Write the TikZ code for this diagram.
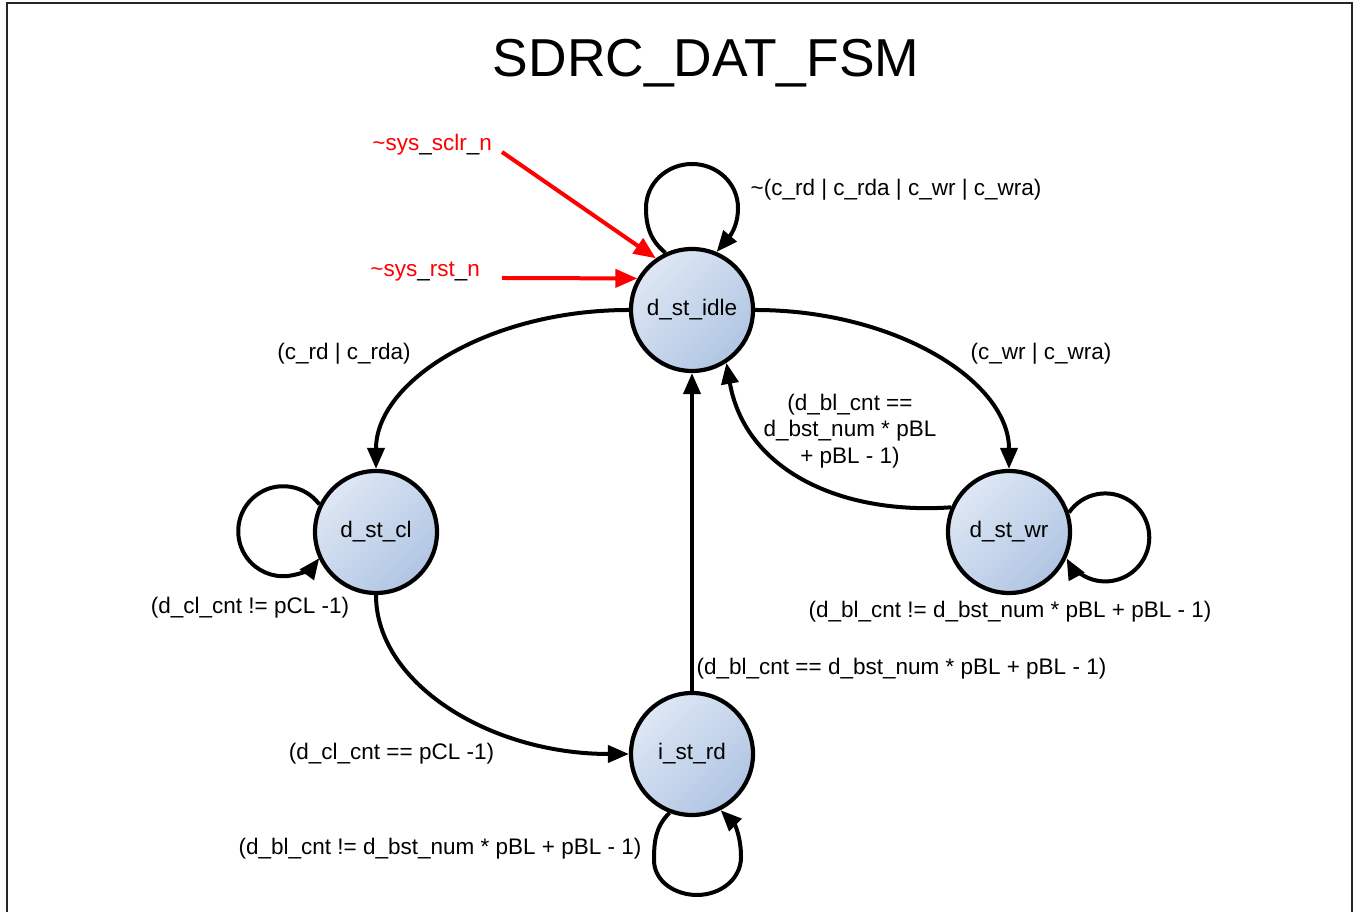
\documentclass[tikz,border=0pt]{standalone}
\usepackage{fontspec}
\setmainfont{Liberation Sans}
\usetikzlibrary{arrows.meta}
\definecolor{nodelight}{RGB}{222,231,244}
\definecolor{nodedark}{RGB}{176,197,227}
\definecolor{resetred}{RGB}{255,0,0}
\newcommand\bu{{\color{black}\_}}
\begin{document}
\begin{tikzpicture}[x=1pt,y=1pt,
  state/.style={circle, draw=black, line width=4.2pt, minimum size=122pt, inner sep=0pt,
    top color=nodelight, bottom color=nodedark, shading angle=45,
    font=\fontsize{22.5}{27}\selectfont},
  edge/.style={line width=4pt, -{Triangle[length=21pt,width=17pt]}},
  reset/.style={color=resetred, line width=4pt, -{Triangle[length=22pt,width=18pt]}},
  lbl/.style={font=\fontsize{22.5}{26.5}\selectfont, inner sep=0pt, align=center},
  redlbl/.style={lbl, text=resetred},
  frame/.style={line width=2pt, draw=black!85}
]
\useasboundingbox (0,0) rectangle (1356,912);

% frame
\draw[frame] (7,-2) -- (7,909) -- (1352,909) -- (1352,-2);

% title
\node[font=\fontsize{53.4}{60}\selectfont, inner sep=0pt] (title) at (706,849) {SDRC\_DAT\_FSM};

% states
\node[state] (idle) at (692,602) {d\_st\_idle};
\node[state] (cl)   at (376,380) {d\_st\_cl};
\node[state] (wr)   at (1009,380) {d\_st\_wr};
\node[state] (rd)   at (692,158) {i\_st\_rd};

% reset inputs
\coordinate (sclrsrc) at (502,760);
\coordinate (rstsrc) at (502,634);
\node[redlbl, anchor=east] (sclrlbl) at (492,767) {\textasciitilde sys\bu sclr\bu n};
\node[redlbl, anchor=east] (rstlbl) at (480,640) {\textasciitilde sys\bu rst\bu n};
\draw[reset] (sclrsrc) -- (idle.125);
\draw[reset] (rstsrc) -- (idle.150);

% transitions
\draw[edge] (idle.west) .. controls (489,602) and (376,531) .. (cl.north);
\draw[edge] (idle.east) .. controls (895,602) and (1009,531) .. (wr.north);
\draw[edge] (wr.157) .. controls (840,397) and (745,442) .. (idle.-57);
\draw[edge] (cl.south) .. controls (376,229) and (489,158) .. (rd.west);
\draw[edge] (rd.north) -- (idle.south);

% self loops
\draw[edge] (idle.115) to[out=140,in=270] (646,704) to[out=90,in=180] (692,748)
  to[out=0,in=90] (738,704) to[out=270,in=50] (idle.67);
\draw[edge] (cl.154.7) arc[start angle=36.7, end angle=323.3, radius=45];
\draw[edge] (wr.18.4) arc[start angle=145.5, end angle=-151.5, radius=44];
\draw[edge] (rd.249) to[out=225,in=90] (654,52) to[out=270,in=180] (697,17)
  to[out=0,in=270] (741,55) to[out=90,in=-45] (rd.297);

% labels
\node[lbl] (lidle) at (896,722) {\textasciitilde(c\_rd \textbar{} c\_rda \textbar{} c\_wr \textbar{} c\_wra)};
\node[lbl] (lidlecl) at (344,558) {(c\_rd \textbar{} c\_rda)};
\node[lbl] (lidlewr) at (1041,558) {(c\_wr \textbar{} c\_wra)};
\node[lbl] (lwridle) at (850,481) {(d\_bl\_cnt ==\\d\_bst\_num * pBL\\+ pBL - 1)};
\node[lbl] (lcl) at (250,304) {(d\_cl\_cnt != pCL -1)};
\node[lbl] (lwr) at (1010,300) {(d\_bl\_cnt != d\_bst\_num * pBL + pBL - 1)};
\node[lbl] (lrdidle) at (901.5,243) {(d\_bl\_cnt == d\_bst\_num * pBL + pBL - 1)};
\node[lbl] (lclrd) at (391.5,158) {(d\_cl\_cnt == pCL -1)};
\node[lbl] (lrd) at (440,63) {(d\_bl\_cnt != d\_bst\_num * pBL + pBL - 1)};
\end{tikzpicture}
\end{document}
